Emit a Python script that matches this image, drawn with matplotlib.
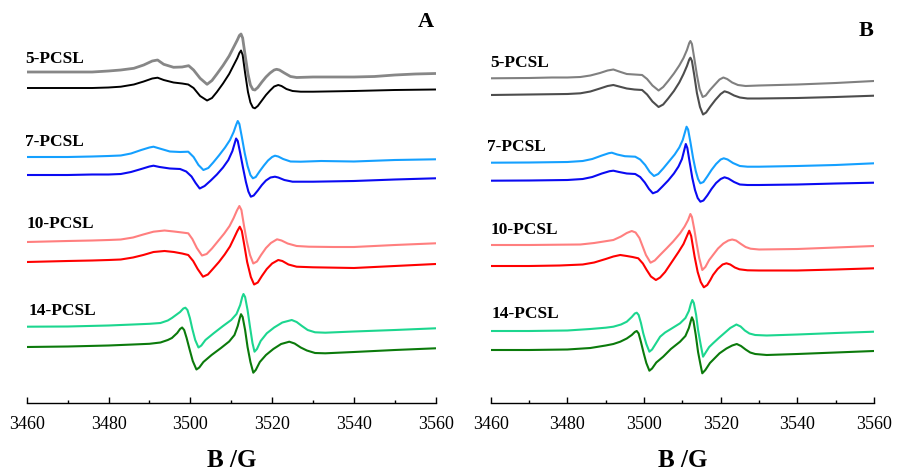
import numpy as np
import matplotlib
matplotlib.use("Agg")
import matplotlib.pyplot as plt
from matplotlib.ticker import MultipleLocator

plt.rcParams['font.family'] = ['Liberation Serif', 'DejaVu Serif']

# ---------------- Panel A data (field in G, EPR signal in arbitrary units) ----------------
A5_grey_B = [3460, 3470, 3476, 3480, 3483, 3486.2, 3488.6, 3490.7, 3492, 3493.5, 3495.9, 3498, 3499.6, 3500.8,
             3502.4, 3504.1, 3505.3, 3506.5, 3508, 3509.5, 3510.5, 3511.5, 3512, 3512.4, 3512.8, 3513.4, 3514.1,
             3514.7, 3515.3, 3515.8, 3516.5, 3517.5, 3518.5, 3519.5, 3520.5, 3521.1, 3521.8, 3523, 3524.5, 3526,
             3530, 3540, 3545, 3550, 3555, 3560]
A5_grey_I = [0, 0, 0, 1, 2, 3.7, 7, 11, 12, 7.7, 4.7, 5, 6.3, 2,
             -6.3, -12.3, -8.5, -2, 6.5, 16, 24, 32, 36.5, 38, 34, 17, -2,
             -13, -17.5, -18, -15.5, -10, -5, -1, 2, 2.7, 2, -1, -4.5, -5.5,
             -5, -5, -4.5, -3, -2, -1.5]

A5_black_B = [3460, 3470, 3476, 3480, 3483, 3486.2, 3488.6, 3490.7, 3492, 3493.5, 3495.9, 3498, 3499.5, 3500.8,
              3502.4, 3504.1, 3505.3, 3506.5, 3508, 3509.5, 3510.5, 3511.5, 3512, 3512.4, 3512.8, 3513.4, 3514.1,
              3514.7, 3515.3, 3515.8, 3516.5, 3517.5, 3518.5, 3519.5, 3520.5, 3521.5, 3522.3, 3523.5, 3525, 3527,
              3530, 3540, 3550, 3560]
A5_black_I = [0, 0, 0, 0.5, 1.3, 3.5, 6.5, 9.5, 10.3, 8, 5.5, 4.5, 3.5, 0,
              -8, -12.5, -10, -4, 4.5, 14, 22, 30, 35, 37.5, 33, 15, -4,
              -14.5, -19.5, -20.3, -18, -12.5, -7, -2.5, 1.5, 3, 2, -1, -3, -3.7,
              -3.7, -3, -2, -1.5]

A7_light_B = [3460, 3470, 3476, 3480, 3483, 3485.5, 3488, 3490, 3491, 3492.5, 3495, 3497.5, 3499.5, 3500.8,
              3502, 3503.2, 3504.4, 3505.6, 3507, 3508.5, 3509.7, 3510.6, 3511.2, 3511.6, 3512, 3512.6, 3513.3,
              3514, 3514.7, 3515.3, 3516, 3517, 3518, 3519, 3520, 3520.7, 3521.5, 3522.7, 3524.5, 3527,
              3532, 3540, 3550, 3560]
A7_light_I = [0, 0, 0.5, 1, 1.5, 3.5, 7, 9.5, 10.3, 8.5, 5.5, 5, 5.3, 0,
              -8, -13, -11, -5.5, 1.5, 9.5, 17, 25, 32, 36, 33, 20, 4,
              -9, -18, -21.3, -20, -14, -8.5, -3.5, 0, 1.3, 0.5, -2, -4.5, -4.7,
              -4, -4.5, -3, -2.3]

A7_blue_B = [3460, 3470, 3476, 3480, 3483, 3485.5, 3488, 3490, 3491, 3492.5, 3495, 3497.5, 3499, 3500.3,
             3501.3, 3502.3, 3503.5, 3505, 3506.5, 3508, 3509.3, 3510.3, 3510.8, 3511.2, 3511.6, 3512.2, 3512.9,
             3513.6, 3514.2, 3514.8, 3515.5, 3516.5, 3517.5, 3518.5, 3519.6, 3520.7, 3521.5, 3523, 3525,
             3530, 3540, 3550, 3560]
A7_blue_I = [0, 0, 0.5, 0.5, 1, 3, 6, 8.5, 9.3, 8, 6.5, 6, 3.5, -1.5,
             -8, -13.5, -11, -5.5, 0.5, 7.5, 15, 24, 31, 36.5, 34, 22, 7,
             -7, -16.5, -21.7, -20.5, -15.5, -10, -5.5, -2.5, -1.7, -2.5, -5, -6.7,
             -6.7, -6, -4.5, -3.3]

A10_light_B = [3460, 3470, 3476, 3480, 3483, 3486, 3488.5, 3491, 3493.7, 3496, 3498, 3499.5, 3500.5, 3501.6,
               3502.85, 3504, 3505.3, 3506.8, 3508.3, 3509.6, 3510.6, 3511.4, 3512, 3512.5, 3513.1, 3513.8,
               3514.6, 3515.4, 3516.3, 3517.3, 3518.5, 3519.7, 3521.2, 3522.3, 3523.8, 3526, 3529, 3535,
               3540, 3550, 3560]
A10_light_I = [0, 1, 1.5, 2, 2.5, 4.5, 7.5, 10.3, 11.5, 10.5, 9.5, 8.7, 3, -6,
               -13.5, -12, -6.5, 1, 8.5, 16, 24, 31.5, 36, 32, 17, 1,
               -13, -21.5, -19.5, -13, -6, -1, 2.7, 1.5, -1.5, -4, -4.7, -5,
               -5, -3, -1.3]

A10_red_B = [3460, 3470, 3476, 3480, 3483, 3486, 3488.5, 3491, 3493.7, 3496, 3498, 3499.5, 3500.7, 3501.8,
             3503.1, 3504.3, 3505.5, 3507, 3508.4, 3509.7, 3510.7, 3511.5, 3512.1, 3512.6, 3513.2, 3513.9,
             3514.8, 3515.6, 3516.5, 3517.5, 3518.7, 3520, 3521.5, 3522.5, 3524, 3526, 3530,
             3540, 3550, 3560]
A10_red_I = [0, 1, 1.5, 2, 2.5, 4.5, 7, 10, 11, 10, 8.5, 7, 1, -7,
             -14.7, -12.5, -7, 0, 7.5, 15.5, 24, 31, 35.3, 31, 17, 0,
             -15, -22.5, -20.5, -14, -7, -1.5, 2, 1, -2.5, -4.7, -5.3,
             -6, -4, -2]

A14_light_B = [3460, 3470, 3480, 3486, 3490, 3492.7, 3494.5, 3495.5, 3497.5, 3498.3, 3498.8, 3499.3, 3499.9,
               3500.5, 3501.2, 3502, 3502.7, 3503.7, 3505.7, 3508, 3510, 3511.3, 3512.2, 3512.7, 3513, 3513.4,
               3514, 3514.6, 3515.2, 3515.7, 3516.3, 3517.2, 3518.7, 3520.5, 3522.5, 3524.8, 3526, 3527.3,
               3528.7, 3530.5, 3533, 3540, 3550, 3560]
A14_light_I = [0.3, 0.5, 1.5, 2.5, 3.2, 4, 6.5, 9, 15, 18.5, 19.3, 17, 9,
               -2, -13, -20.5, -18.5, -13, -6.3, 1, 7, 13, 22, 30, 33, 30,
               17, 0, -16, -24.7, -22, -14, -6.3, -0.5, 4.5, 7, 5, 1,
               -3, -5.3, -5.7, -4.5, -3, -1.3]

A14_dark_B = [3460, 3470, 3480, 3486, 3490, 3492.7, 3494.5, 3495.5, 3496.8, 3497.5, 3498, 3498.5, 3499.1,
              3499.8, 3500.6, 3501.5, 3502.2, 3503.2, 3505.2, 3507.5, 3509.5, 3510.8, 3511.6, 3512.1, 3512.4,
              3512.8, 3513.4, 3514, 3514.7, 3515.4, 3516, 3517, 3518.5, 3520.3, 3522.2, 3524.2, 3525.5, 3527,
              3528.5, 3530.5, 3533, 3540, 3550, 3560]
A14_dark_I = [0, 0.5, 1.5, 2.5, 3.2, 4.5, 7, 9, 14, 18, 19.5, 17, 9,
              -2, -14, -22.5, -20.5, -15, -8, -1, 5.5, 12, 21, 29, 32.8,
              30, 17, 0, -15, -25.7, -23, -15, -8, -2, 3, 5.3, 3.5, -0.5,
              -3.5, -6, -6.3, -5, -3, -1.3]

# ---------------- Panel B data ----------------
B5_grey_B = [3460, 3470, 3476, 3480, 3483.4, 3486, 3488.5, 3490.5, 3492, 3493.5, 3495.5, 3497.5, 3499.5, 3500.8,
             3502.2, 3503.8, 3505, 3506.3, 3507.8, 3509.2, 3510.3, 3511.2, 3511.8, 3512.1, 3512.5, 3513.1, 3513.8,
             3514.5, 3515.3, 3516.1, 3517.2, 3518.5, 3519.7, 3520.7, 3521.7, 3523, 3524.5, 3526.5,
             3530, 3540, 3550, 3560]
B5_grey_I = [-0.3, 0, 0.5, 0.5, 1, 2.5, 5, 7.5, 8.5, 6.5, 4, 3.5, 3, -1,
             -7.5, -12.5, -9, -3, 4.5, 12.5, 20, 28, 35, 37, 34, 20, 3,
             -11, -19, -17.5, -12, -6.5, -1.5, 0.5, -1, -4.5, -7, -8,
             -7.5, -6.5, -5, -3]

B5_dark_B = [3460, 3470, 3476, 3480, 3483.4, 3486, 3488.5, 3490.5, 3492, 3493.5, 3495.5, 3497.5, 3499.5, 3500.8,
             3502.2, 3503.8, 3505, 3506.3, 3507.8, 3509.2, 3510.3, 3511.2, 3511.8, 3512.1, 3512.5, 3513.1, 3513.8,
             3514.6, 3515.4, 3516.2, 3517.3, 3518.6, 3520, 3521, 3522, 3523.5, 3525, 3527,
             3530, 3540, 3550, 3560]
B5_dark_I = [0, 0.5, 0.8, 1, 1.7, 3.5, 6.5, 9, 10, 8.5, 6.5, 5.5, 5, 0.5,
             -6.5, -12, -9.5, -3.5, 4, 12.5, 21, 29, 35.5, 37.3, 34, 20, 2,
             -12, -19.5, -17.5, -11.5, -5, 1, 3.7, 2.5, -0.5, -2.5, -3.5,
             -3.5, -3, -2, -0.7]

B7_light_B = [3460, 3470, 3476, 3480, 3484, 3486.5, 3489, 3490.8, 3491.6, 3493, 3495, 3497.7, 3499, 3500.3,
              3501.5, 3502.6, 3503.7, 3505, 3506.5, 3508, 3509.2, 3510.1, 3510.7, 3511.1, 3511.5, 3512.1, 3512.8,
              3513.5, 3514.1, 3514.7, 3515.5, 3516.5, 3517.6, 3518.8, 3520, 3520.8, 3521.8, 3523.2, 3525, 3527,
              3530, 3540, 3550, 3560]
B7_light_I = [0.3, 0.5, 0.8, 1, 2, 4, 7.5, 9.8, 10.3, 8.5, 6.8, 6.3, 3.5, -2,
              -9, -13, -11, -5.5, 1.5, 8.5, 15.5, 23, 31, 36.3, 33.5, 21, 5,
              -8, -16, -20.3, -19, -13.5, -7, -1, 3.5, 4.7, 3.5, 0, -3, -3.7,
              -3.7, -3, -2, -0.3]

B7_blue_B = [3460, 3470, 3476, 3480, 3484, 3486.5, 3489, 3491, 3492, 3493.5, 3495.5, 3497.7, 3499, 3500.2,
             3501.3, 3502.3, 3503.5, 3504.8, 3506.3, 3507.8, 3509, 3509.9, 3510.5, 3510.9, 3511.3, 3511.9, 3512.6,
             3513.3, 3514, 3514.7, 3515.5, 3516.5, 3517.6, 3518.8, 3520, 3521, 3522, 3523.5, 3525, 3527,
             3530, 3540, 3550, 3560]
B7_blue_I = [0.3, 0.5, 0.8, 1, 2, 4, 7.5, 9.8, 10.3, 9, 7.5, 7, 4, -1.5,
             -8, -12.3, -10.5, -5.5, 0.5, 7.5, 14.5, 22, 31, 37, 33, 19, 3,
             -9, -17, -20.7, -19.5, -14.5, -8, -2, 2, 3.7, 2.5, -1, -3.5, -4,
             -4, -3.5, -2.5, -1.7]

B10_light_B = [3460, 3470, 3478, 3483.4, 3487, 3490, 3492, 3494, 3495.5, 3496.8, 3497.8, 3498.8, 3499.6, 3500.5,
               3501.7, 3502.8, 3504.3, 3505.9, 3507.6, 3509.4, 3510.6, 3511.5, 3512.1, 3512.5, 3513.1, 3513.7,
               3514.4, 3515.2, 3516, 3517, 3518, 3519.3, 3520.7, 3522, 3523, 3524, 3525.3, 3526.5, 3527.8,
               3530, 3540, 3550, 3560]
B10_light_I = [0, 0, 0.3, 0.5, 2, 3.8, 5, 8.5, 12, 14, 12.5, 7, -1, -10,
               -17.7, -15.5, -9.5, -3.3, 3.5, 11.7, 18.5, 25, 31, 28, 16, 2,
               -13, -25, -22, -15, -10, -3.5, 1.5, 4.5, 5.5, 4.5, 1, -2, -3.7,
               -4.5, -4, -2.5, -1]

B10_red_B = [3460, 3470, 3478, 3484, 3487, 3490, 3492, 3493.8, 3495.5, 3497, 3498.5, 3499.7, 3500.7, 3501.8,
             3503.1, 3504.2, 3505.5, 3507.6, 3509, 3510.3, 3511.2, 3511.8, 3512.3, 3513.2, 3514, 3514.8,
             3515.6, 3516.5, 3517.3, 3518, 3519.2, 3520.5, 3521.5, 3522.5, 3523.7, 3524.9, 3527,
             3530, 3540, 3550, 3560]
B10_red_I = [0, 0, 0.5, 1.5, 3.5, 7, 9.5, 11, 10, 9, 7.7, 2.5, -4, -10.5,
             -14, -11.5, -6, 6, 14, 22, 30, 35.3, 30, 9.3, -6, -16,
             -21.3, -19, -14, -9, -3, 1.5, 2.7, 1.5, -1.5, -3.3, -4.3,
             -4.5, -4.5, -3.5, -2.3]

B14_light_B = [3460, 3470, 3480, 3486, 3490, 3492, 3494, 3495.5, 3496.8, 3497.6, 3498.1, 3498.6, 3499.2, 3499.8,
               3500.6, 3501.4, 3502.1, 3503, 3504.2, 3505.5, 3507, 3509.4, 3510.8, 3511.7, 3512.2, 3512.6, 3513,
               3513.6, 3514.1, 3514.8, 3515.4, 3516, 3517, 3518, 3519.5, 3521, 3522.5, 3524.1, 3525.2, 3526.3,
               3527.5, 3529, 3532, 3540, 3550, 3560]
B14_light_I = [0, 0, 0.5, 2, 3.3, 4.3, 6.5, 9.3, 14, 17.5, 18.3, 16, 8, -2.3,
               -13, -20.7, -18.5, -13, -5.7, -1.5, 2, 7.7, 13, 20, 27, 31, 28,
               16, 1, -14, -25.7, -22, -16, -12.3, -7, -2, 3, 6.5, 4.5, 0.5,
               -2.5, -4, -4.5, -3.5, -2, -0.7]

B14_dark_B = [3460, 3470, 3480, 3486, 3490, 3492, 3493.8, 3495.5, 3496.8, 3497.6, 3498.1, 3498.6, 3499.2, 3499.9,
              3500.6, 3501.4, 3502.1, 3503.2, 3505, 3507, 3509.4, 3510.8, 3511.7, 3512.2, 3512.5, 3512.9, 3513.5,
              3514.1, 3514.7, 3515.2, 3516, 3517.2, 3519.7, 3521.5, 3523, 3524.2, 3525.3, 3526.5, 3527.7,
              3529, 3532, 3540, 3550, 3560]
B14_dark_I = [0, 0, 0.5, 2, 4.5, 6, 8.3, 11.5, 15, 18, 19, 16.5, 8, -3,
              -13, -20.7, -18.5, -12.5, -6.7, 1, 8.3, 14, 22, 29, 32.7, 29, 15,
              -2, -14, -23.3, -20, -13, -3.3, 1.5, 4.5, 6, 4, 0.5, -2.5,
              -4, -5, -4, -2.5, -1]

labels = ["5-PCSL", "7-PCSL", "10-PCSL", "14-PCSL"]
x_ticks = [3460, 3480, 3500, 3520, 3540, 3560]

# ---------------- styling / layout ----------------
W, H = 899, 471
fig = plt.figure(figsize=(W / 100, H / 100), dpi=100)

panels = [
    dict(letter="A", rect=(26.7, 435.7), letter_xy=(426, 22),
         curves=[(A5_grey_B, A5_grey_I, 399, "#878787", 2.0),
                 (A5_black_B, A5_black_I, 383, "#000000", 1.4),
                 (A7_light_B, A7_light_I, 314, "#14A0FF", 1.5),
                 (A7_blue_B, A7_blue_I, 296, "#0A0AF2", 1.5),
                 (A10_light_B, A10_light_I, 229, "#FF7F7F", 1.5),
                 (A10_red_B, A10_red_I, 209, "#FF0000", 1.5),
                 (A14_light_B, A14_light_I, 144, "#1CD68F", 1.5),
                 (A14_dark_B, A14_dark_I, 124, "#0B7A0B", 1.5)],
         label_pos=[(25, 59), (25, 142), (26.7, 224), (28.3, 311)]),
    dict(letter="B", rect=(490.7, 874.0), letter_xy=(866.5, 31),
         curves=[(B5_grey_B, B5_grey_I, 393, "#808080", 1.5),
                 (B5_dark_B, B5_dark_I, 376, "#4D4D4D", 1.5),
                 (B7_light_B, B7_light_I, 308, "#14A0FF", 1.5),
                 (B7_blue_B, B7_blue_I, 290, "#0A0AF2", 1.5),
                 (B10_light_B, B10_light_I, 226, "#FF7F7F", 1.5),
                 (B10_red_B, B10_red_I, 205, "#FF0000", 1.5),
                 (B14_light_B, B14_light_I, 140, "#1CD68F", 1.5),
                 (B14_dark_B, B14_dark_I, 121, "#0B7A0B", 1.5)],
         label_pos=[(490, 63), (487.3, 147), (490.7, 230), (491.7, 314)]),
]

spine_py = 403.3
for p in panels:
    x0, x1 = p["rect"]
    ax = fig.add_axes([x0 / W, (H - spine_py) / H, (x1 - x0) / W, spine_py / H])
    ax.set_xlim(3460, 3560)
    ax.set_ylim(H - spine_py, H)
    for xb, yi, off, col, lw in p["curves"]:
        ax.plot(xb, off + np.asarray(yi), color=col, lw=lw,
                solid_joinstyle="round", solid_capstyle="round")
    for s in ["top", "right", "left"]:
        ax.spines[s].set_visible(False)
    ax.spines["bottom"].set_linewidth(1.0)
    ax.set_yticks([])
    ax.set_xticks(x_ticks)
    ax.xaxis.set_minor_locator(MultipleLocator(10))
    ax.tick_params(axis="x", which="major", direction="in", length=4, width=1.0,
                   labelsize=13, pad=9)
    ax.tick_params(axis="x", which="minor", direction="in", length=2.3, width=1.0)
    ax.set_xlabel("B /G", fontsize=18, fontweight="bold", labelpad=12)
    ax.patch.set_alpha(0)
    for lab, (lx, ly) in zip(labels, p["label_pos"]):
        fig.text(lx / W, 1 - ly / H, lab, fontsize=12.5, fontweight="bold",
                 ha="left", va="center")
    lx, ly = p["letter_xy"]
    fig.text(lx / W, 1 - ly / H, p["letter"], fontsize=16, fontweight="bold",
             ha="center", va="center")

fig.savefig("out.png", dpi=100)
